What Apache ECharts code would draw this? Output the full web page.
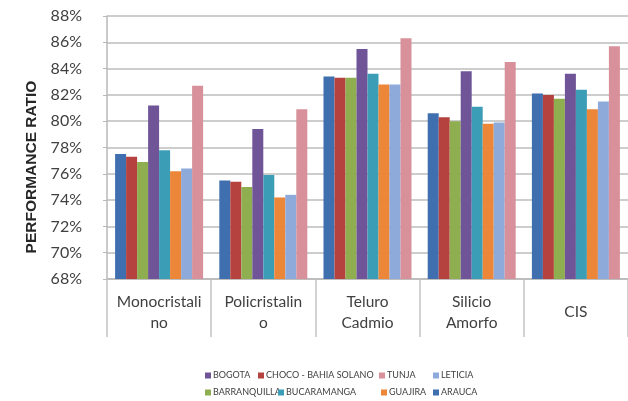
<!DOCTYPE html>
<html>
<head>
<meta charset="utf-8">
<script src="https://cdn.jsdelivr.net/npm/echarts@6/dist/echarts.min.js"></script>
<style>
html,body{margin:0;padding:0;background:#fff;}
#c{width:628px;height:401px;}
</style>
</head>
<body>
<div id="c"></div>
<script>
const categories = ['Monocristali\nno', 'Policristalin\no', 'Teluro\nCadmio', 'Silicio\nAmorfo', 'CIS'];
const seriesNames = ['ARAUCA', 'CHOCO - BAHIA SOLANO', 'BARRANQUILLA', 'BOGOTA', 'BUCARAMANGA', 'GUAJIRA', 'LETICIA', 'TUNJA'];
const arauca       = [77.5, 75.5, 83.4, 80.6, 82.1];
const choco        = [77.3, 75.4, 83.3, 80.3, 82.0];
const barranquilla = [76.9, 75.0, 83.3, 80.0, 81.7];
const bogota       = [81.2, 79.4, 85.5, 83.8, 83.6];
const bucaramanga  = [77.8, 75.9, 83.6, 81.1, 82.4];
const guajira      = [76.2, 74.2, 82.8, 79.8, 80.9];
const leticia      = [76.4, 74.4, 82.8, 79.9, 81.5];
const tunja        = [82.7, 80.9, 86.3, 84.5, 85.7];
const yTicks = {min: 68, max: 88, interval: 2};
const yName = 'PERFORMANCE RATIO';

const values = [arauca, choco, barranquilla, bogota, bucaramanga, guajira, leticia, tunja];
const colors = ['#3f6fae', '#b5423f', '#8fae50', '#6f5597', '#3c9db6', '#ec8638', '#8eaadb', '#d8919a'];
const FONT = "Lato, 'Liberation Sans', sans-serif";
const TXT = '#404040';

// legend placement: [seriesIndex, left, top]
const legendPos = [
  [3, 205, 371], [1, 258, 371], [7, 379, 371], [6, 433, 371],
  [2, 205, 388], [4, 278, 388], [5, 381, 388], [0, 433, 388]
];

const chart = echarts.init(document.getElementById('c'));
chart.setOption({
  animation: false,
  textStyle: {fontFamily: FONT},
  grid: {left: 107, width: 527, top: 16, bottom: 122, containLabel: false},
  legend: legendPos.map(([i, l, t]) => ({
    data: [seriesNames[i]],
    left: l, top: t, padding: 0,
    itemWidth: 6, itemHeight: 6,
    icon: 'rect',
    textStyle: {fontFamily: FONT, fontSize: 9, color: TXT, padding: [0, 0, 0, -3]}
  })),
  graphic: [{
    type: 'text', x: 32, y: 167, rotation: Math.PI / 2,
    style: {text: yName, fontFamily: "'Liberation Sans', Arial, sans-serif", fontWeight: 'bold', fontSize: 15.5, fill: '#262626', align: 'center', verticalAlign: 'middle'}
  }],
  xAxis: {
    type: 'category',
    data: categories,
    axisLine: {show: true, lineStyle: {color: '#b8b8b8', width: 1.5}},
    axisTick: {show: true, length: 58, interval: 0, lineStyle: {color: '#c4c4c4', width: 1.5}},
    axisLabel: {interval: 0, margin: 33, verticalAlign: 'middle', fontSize: 15.5, lineHeight: 21, color: TXT, fontFamily: FONT}
  },
  yAxis: {
    type: 'value',
    min: yTicks.min, max: yTicks.max, interval: yTicks.interval,
    axisLine: {show: true, lineStyle: {color: '#b8b8b8', width: 1.5}},
    axisTick: {show: true, length: 4, lineStyle: {color: '#b8b8b8'}},
    splitLine: {show: true, lineStyle: {color: '#bdbdbd', width: 1.5}},
    axisLabel: {formatter: '{value}%', margin: 25, fontSize: 16, color: TXT, fontFamily: FONT}
  },
  series: values.map((v, i) => ({
    name: seriesNames[i],
    type: 'bar',
    data: v,
    barWidth: 11,
    barGap: '0%',
    itemStyle: {color: colors[i]}
  }))
});
</script>
</body>
</html>
